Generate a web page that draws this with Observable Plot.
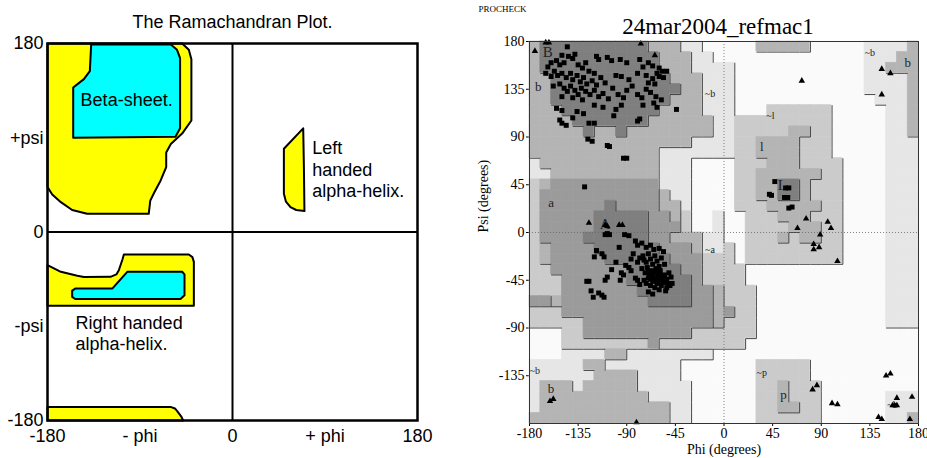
<!DOCTYPE html>
<html><head><meta charset="utf-8">
<script src="https://cdn.jsdelivr.net/npm/d3@7"></script>
<script src="https://cdn.jsdelivr.net/npm/@observablehq/plot@0.6"></script>
<style>
html,body{margin:0;padding:0;background:#fff;}
#wrap{display:flex;width:927px;height:458px;overflow:hidden;}
#wrap svg{display:block;}
</style></head><body><div id="wrap"></div>
<script>
// ---------- LEFT PANEL DATA ----------
const leftXTicks = [-180, -90, 0, 90, 180];
const leftXLabels = ["-180", "- phi", "0", "+ phi", "180"];
const leftYTicks = [180, 90, 0, -90, -180];
const leftYLabels = ["180", "+psi", "0", "-psi", "-180"];

const betaOuter = [[-180,180],[-49,180],[-42.5,174],[-40,165],[-40,106.5],[-49,94],[-60,84],[-64.5,76],[-64.5,62],[-70,49],[-76,38],[-80,30],[-81.5,17.4],[-141.4,17.4],[-156,21],[-167,28.5],[-175.4,35.8],[-180,43]];
const betaCore = [[-137.5,179],[-60,179],[-54,174],[-51,166],[-51,99],[-55.5,91],[-155,90],[-155,138],[-144.6,146],[-138.8,153.6]];
const alphaLOuter = [[68.8,99],[50,79.5],[50,36.5],[52,29],[56.4,23.7],[62,21],[70,20],[69.5,60]];
const alphaROuter = [[-180,-31.7],[-167,-38],[-151,-41.8],[-144.6,-43],[-118.7,-42.8],[-113,-40.5],[-110.6,-36.5],[-107,-26],[-105.7,-21.5],[-42.5,-21.5],[-39,-24],[-37.6,-28.5],[-37.6,-70.5],[-180,-70.5]];
const alphaRCore = [[-156,-56],[-153,-54],[-117,-54],[-102.4,-38],[-49,-38],[-46.7,-40.5],[-46.7,-60.4],[-50.6,-64],[-153,-64],[-156,-62]];
const bottomStrip = [[-180,-167],[-60.3,-167],[-56,-168.5],[-53.8,-171],[-50,-176],[-48,-180],[-180,-180]];

const centeredLabels = [
  {text: "Beta-sheet.", phi: -103, psi: 125.6}
];
const startLabels = [
  {text: "Left\nhanded\nalpha-helix.", phi: 77.5, psi: 60.3},
  {text: "Right handed\nalpha-helix.", phi: -152.7, psi: -96}
];

// ---------- RIGHT PANEL DATA ----------
const phiTicks = [-180, -135, -90, -45, 0, 45, 90, 135, 180];
const psiTicks = [180, 135, 90, 45, 0, -45, -90, -135];
const shadeColors = ["#fafafa", "#e6e6e6", "#cbcbcb", "#b4b4b4", "#9b9b9b", "#7f7f7f"];

// 36 rows (psi 180 -> -180) x 36 columns (phi -180 -> 180), 10 degree cells, region level 0-5
const regionGrid = [
  "355555555553331100" + "000333330000011113",
  "355555555555333110" + "000000000000011133",
  "355555555555333111" + "100000000000011333",
  "335555555555533311" + "100000000000011113",
  "335555555555553311" + "100000000000011113",
  "335555555555533311" + "100000000000001113",
  "333555555555333311" + "100022222200000113",
  "333355555553333331" + "122222222200000113",
  "333335335333333331" + "122222332200000113",
  "333333333333333111" + "122333322200000111",
  "333333333333111111" + "122333322200000111",
  "133333333333111000" + "022233322220000111",
  "113333333333111000" + "022333333220000111",
  "234444444444111000" + "022335532220000111",
  "244444444444311000" + "022335532220000111",
  "244444454444331000" + "022233333220000111",
  "244444555554432001" + "002223332220000111",
  "244444555554442001" + "002222333220000111",
  "244445555554433311" + "002223233220000111",
  "234444555555444311" + "202222222220000111",
  "234444455555544422" + "202222222220000111",
  "224444444555554422" + "220000000000000111",
  "222444444555555422" + "220000000000000111",
  "222444444455555443" + "222000000000000111",
  "443444444445555443" + "222000000000000111",
  "222444444444444443" + "422000000000000111",
  "222224444444444443" + "222000000000000111",
  "000224444444444222" + "222000000000000000",
  "000222222224222222" + "220000000000000000",
  "000111133111111110" + "000000000000000000",
  "111113311111110000" + "000222220000000000",
  "111111333311110000" + "000222220000000000",
  "133313333311111000" + "000223222000000000",
  "133333333331111000" + "000223222000000111",
  "133333333333311000" + "000223322000000111",
  "333333333333311000" + "000222222000000113"
];

const residues = [
  // beta region
  [-145,175],[-150,167],[-144,166],[-140,164],[-138,168],[-128,160],[-118,166],[-116,163],[-108,165],[-104,162],
  [-96,163],[-90,160],[-78,163],[-75,156],[-70,160],[-66,157],[-60,155],[-57,152],[-62,150],[-53,152],
  [-160,160],[-163,156],[-157,152],[-152,158],[-148,160],[-155,162],[-135,158],[-131,155],[-125,152],[-120,150],
  [-165,150],[-160,147],[-154,148],[-150,150],[-146,146],[-142,150],[-140,144],[-136,148],[-133,142],[-130,146],
  [-127,140],[-122,143],[-118,139],[-114,146],[-110,141],[-100,148],[-95,147],[-88,144],[-80,150],[-72,148],
  [-66,145],[-64,140],[-60,147],[-70,141],[-56,146],
  [-158,138],[-152,140],[-148,136],[-145,133],[-142,138],[-138,134],[-135,130],[-132,136],[-128,133],[-124,130],
  [-120,134],[-116,128],[-112,131],[-107,126],[-103,136],[-98,130],[-93,127],[-90,134],[-85,138],[-80,130],
  [-76,127],[-72,135],[-68,132],[-63,128],[-58,125],[-140,127],[-150,128],[-131,125],
  [-155,117],[-150,115],[-136,114],[-130,112],[-120,120],[-112,118],[-100,116],[-102,110],[-95,120],[-80,105],
  [-78,107],[-75,120],[-65,122],[-62,118],[-44,116],[-150,103],[-146,101],[-152,106],[-125,103],[-120,103],[-140,108],
  [-126,88],[-122,86],[-108,82],[-106,81],[-93,70],[-90,70],[-129,43],
  // alpha region
  [-110,-2],[-108,-1],[-106,-2],[-92,-2],[-88,-3],
  [-82,-8],[-80,-12],[-76,-10],[-72,-14],[-68,-12],[-65,-16],[-60,-15],[-56,-18],
  [-97,-14],[-118,-17],[-120,-23],[-113,-20],[-111,-23],
  [-88,-33],[-91,-31],[-86,-36],[-93,-40],[-95,-38],[-108,-42],[-110,-45],
  [-127,-46],[-125,-46],[-123,-55],[-121,-61],[-116,-57],[-113,-59],[-111,-61],
  [-82,-43],[-80,-45],[-78,-49],[-70,-56],[-66,-58],[-53,-52],[-50,-50],[-48,-48],
  [-78,-24],[-74,-26],
  [-75,-22],[-72,-28],[-70,-20],[-68,-25],[-66,-30],[-64,-22],[-62,-27],[-60,-32],[-58,-24],[-55,-30],
  [-76,-34],[-73,-38],[-71,-33],[-69,-40],[-67,-36],[-65,-44],[-63,-38],[-61,-42],[-59,-36],[-57,-45],
  [-55,-40],[-53,-44],[-51,-38],[-49,-42],
  [-74,-45],[-72,-48],[-70,-43],[-68,-50],[-66,-46],[-64,-52],[-62,-48],[-60,-54],[-58,-50],[-56,-47],
  [-54,-55],[-52,-48],
  [-66,-40],[-63,-34],[-61,-46],[-59,-40],[-65,-38],[-62,-43],[-60,-38],[-57,-41],[-68,-44],[-70,-37],
  [-84,-20],[-86,-25],[-80,-28],[-100,-28],[-104,-35],[-96,-45],
  // left-handed region
  [47,48],[57,42],[60,42],[42,36],[44,35],[56,33],[59,33],[60,23],[63,24]
];

const glycines = [
  [-175,171],[-165,179],[-162,179],[-77,178],[-64,167],[-125,9],[-97,7],[-94,7],[-110,7],[-108,6],
  [72,143],[146,154],[154,150],[146,130],[76,13],[68,4],[96,10],[99,4],
  [89,-2],[83,-11],[83,-16],[88,-14],[105,-27],
  [150,-135],[154,-133],[82,-148],[86,-144],[100,-161],[105,-162],[156,-163],[158,-163],[160,-163],
  [160,-156],[174,-155],[143,-174],[146,-176],[172,-176],
  [-161,-159],[-158,-157],[-81,-179]
];

const coreLabels = [
  {text: "B", phi: -163, psi: 170},
  {text: "A", phi: -110, psi: 8},
  {text: "L", phi: 54, psi: 45}
];
const allowedLabels = [
  {text: "b", phi: -172, psi: 137},
  {text: "b", phi: 170, psi: 160},
  {text: "l", phi: 35, psi: 81},
  {text: "a", phi: -160, psi: 28},
  {text: "b", phi: -160, psi: -147},
  {text: "p", phi: 55, psi: -153}
];
const generousLabels = [
  {text: "~b", phi: -13, psi: 131},
  {text: "~b", phi: 135, psi: 169},
  {text: "~l", phi: 43, psi: 110},
  {text: "~a", phi: -13, psi: -16},
  {text: "~b", phi: -175, psi: -130},
  {text: "~p", phi: 35, psi: -132},
  {text: "~b", phi: 156, psi: -162}
];

// ---------- LEFT PANEL ----------
const lxMap = new Map(leftXTicks.map((t, i) => [t, leftXLabels[i]]));
const lyMap = new Map(leftYTicks.map((t, i) => [t, leftYLabels[i]]));
const poly = (pts, fill) => Plot.line(pts, {x: d => d[0], y: d => d[1], curve: "linear-closed", fill, stroke: "black", strokeWidth: 2, strokeLinejoin: "round"});

const left = Plot.plot({
  width: 462, height: 458,
  marginLeft: 47, marginRight: 45, marginTop: 43, marginBottom: 38,
  style: {fontFamily: "Liberation Sans, Arial, sans-serif", fontSize: "18px", color: "black", background: "white"},
  x: {domain: [-180, 180], ticks: leftXTicks, tickFormat: d => lxMap.get(d), tickSize: 0, tickPadding: 9, label: null},
  y: {domain: [-180, 180], ticks: leftYTicks, tickFormat: d => lyMap.get(d), tickSize: 0, tickPadding: 4, label: null},
  marks: [
    poly(betaOuter, "#ffff00"),
    poly(betaCore, "#00ffff"),
    poly(alphaLOuter, "#ffff00"),
    poly(alphaROuter, "#ffff00"),
    poly(alphaRCore, "#00ffff"),
    poly(bottomStrip, "#ffff00"),
    Plot.ruleX([0], {stroke: "black", strokeWidth: 2}),
    Plot.ruleY([0], {stroke: "black", strokeWidth: 2}),
    Plot.frame({stroke: "black", strokeWidth: 2.5}),
    Plot.text(centeredLabels, {x: "phi", y: "psi", text: "text", textAnchor: "middle", fontSize: 18, fill: "black"}),
    Plot.text(startLabels, {x: "phi", y: "psi", text: "text", textAnchor: "start", lineHeight: 1.2, fontSize: 18, fill: "black"}),
    Plot.text(["The Ramachandran Plot."], {text: d => d, frameAnchor: "top", lineAnchor: "middle", dy: -21, fontSize: 18, fill: "black"})
  ]
});

// ---------- RIGHT PANEL ----------
const lev = (r, c) => { const s = regionGrid[r] || ""; const ch = s[c]; return ch === undefined ? 0 : +ch; };
const cells = [];
const edges = [];
for (let r = 0; r < 36; r++) {
  for (let c = 0; c < 36; c++) {
    const L = lev(r, c);
    const phi = -180 + 10 * c, psi = 170 - 10 * r;
    cells.push({phi, psi, level: L});
    if (c < 35 && lev(r, c + 1) < L) edges.push({x1: phi + 10, x2: phi + 10, y1: psi, y2: psi + 10});
    if (r < 35 && lev(r + 1, c) < L) edges.push({x1: phi, x2: phi + 10, y1: psi, y2: psi});
  }
}

const right = Plot.plot({
  width: 465, height: 458,
  marginLeft: 67, marginRight: 9, marginTop: 41, marginBottom: 35,
  style: {fontFamily: "Liberation Serif, Times New Roman, serif", fontSize: "14px", color: "black", background: "white"},
  color: {type: "identity"},
  x: {domain: [-180, 180], ticks: phiTicks, tickFormat: d => String(d), tickSize: 3, tickPadding: 2, label: null},
  y: {domain: [-180, 180], ticks: psiTicks, tickFormat: d => String(d), tickSize: 3, tickPadding: 2, label: null},
  marks: [
    Plot.rect(cells, {x1: "phi", x2: d => d.phi + 10, y1: "psi", y2: d => d.psi + 10, fill: d => shadeColors[d.level], stroke: d => shadeColors[d.level], strokeWidth: 0.6}),
    Plot.link(edges, {x1: "x1", y1: "y1", x2: "x2", y2: "y2", stroke: "#333", strokeWidth: 0.9}),
    Plot.ruleX([0], {stroke: "#666", strokeWidth: 0.8, strokeDasharray: "1,2"}),
    Plot.ruleY([0], {stroke: "#666", strokeWidth: 0.8, strokeDasharray: "1,2"}),
    Plot.text(coreLabels, {x: "phi", y: "psi", text: "text", fontSize: 15, fill: "#222"}),
    Plot.text(allowedLabels, {x: "phi", y: "psi", text: "text", fontSize: 13, fill: "#222"}),
    Plot.text(generousLabels, {x: "phi", y: "psi", text: "text", fontSize: 10, fill: "#222"}),
    Plot.dot(residues, {x: d => d[0], y: d => d[1], symbol: "square", r: 2.8, fill: "black", stroke: "none"}),
    Plot.dot(glycines, {x: d => d[0], y: d => d[1], symbol: "triangle", r: 2.4, fill: "black", stroke: "none"}),
    Plot.frame({stroke: "#333", strokeWidth: 1}),
    Plot.text(["24mar2004_refmac1"], {text: d => d, frameAnchor: "top", lineAnchor: "middle", dx: -6, dy: -15, fontSize: 23, fill: "black"}),
    Plot.text(["PROCHECK"], {text: d => d, frameAnchor: "top-left", textAnchor: "start", lineAnchor: "middle", dx: -51, dy: -32, fontSize: 9, fill: "black"}),
    Plot.text(["Phi (degrees)"], {text: d => d, frameAnchor: "bottom", lineAnchor: "middle", dy: 26, fontSize: 14, fill: "black"}),
    Plot.text(["Psi (degrees)"], {text: d => d, frameAnchor: "left", dx: -46, rotate: -90, fontSize: 14, fill: "black"})
  ]
});

const wrap = document.getElementById("wrap");
wrap.appendChild(left);
wrap.appendChild(right);
</script></body></html>
